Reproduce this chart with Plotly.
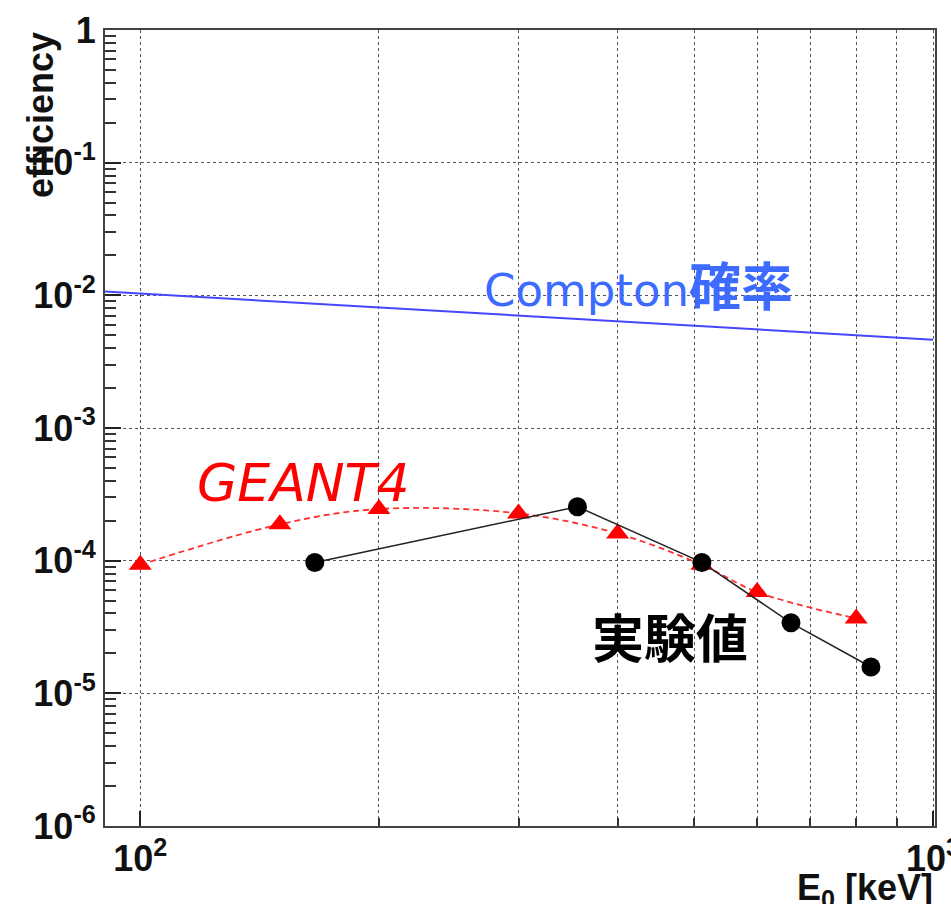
import plotly.graph_objects as go

# Measured detection efficiency (keV, efficiency)
exp_energy = [166, 356, 511, 662, 835]
exp_eff = [9.7e-5, 2.55e-4, 9.7e-5, 3.4e-5, 1.58e-5]

# GEANT4 simulation
sim_energy = [100, 150, 200, 300, 400, 511, 600, 800]
sim_eff = [9.3e-5, 1.88e-4, 2.45e-4, 2.27e-4, 1.6e-4, 9.3e-5, 5.8e-5, 3.67e-5]

# Compton scattering probability (straight in log-log)
compton_energy = [90, 1000]
compton_prob = [1.07e-2, 4.63e-3]

y_tickvals = [1e-6, 1e-5, 1e-4, 1e-3, 1e-2, 1e-1, 1]
y_ticktext = ["10<sup>-6</sup>", "10<sup>-5</sup>", "10<sup>-4</sup>", "10<sup>-3</sup>",
              "10<sup>-2</sup>", "10<sup>-1</sup>", "1"]
x_tickvals = [100, 1000]
x_ticktext = ["10<sup>2</sup>", "10<sup>3</sup>"]
x_minor = [200, 300, 400, 500, 600, 700, 800, 900]
y_minor = [k * 10.0 ** e for e in range(-6, 0) for k in range(2, 10)]

W, H = 951, 904
L, R, T, B = 105, 16, 30, 78
PW, PH = W - L - R, H - T - B


def px(x):
    return (x - L) / PW


def py(y):
    return (H - B - y) / PH


fig = go.Figure()

fig.add_trace(go.Scatter(
    x=compton_energy, y=compton_prob, mode="lines",
    line=dict(color="#4646ff", width=2), showlegend=False))

fig.add_trace(go.Scatter(
    x=sim_energy, y=sim_eff, mode="lines+markers",
    line=dict(color="#ff3030", width=1.8, dash="6px,4px", shape="spline", smoothing=1),
    marker=dict(symbol="triangle-up", size=20, color="#ff0000"),
    showlegend=False))

fig.add_trace(go.Scatter(
    x=exp_energy, y=exp_eff, mode="lines+markers",
    line=dict(color="#222222", width=1.5),
    marker=dict(symbol="circle", size=19, color="#000000"),
    showlegend=False))

axis_font = dict(family="Liberation Sans, Arial, sans-serif", size=36, color="#111", weight="bold")
grid = dict(showgrid=True, gridcolor="#555", griddash="dot", gridwidth=1)

fig.update_xaxes(
    type="log", range=[1.9555, 3.0025], tickmode="array", tickvals=x_tickvals, ticktext=x_ticktext,
    ticks="inside", ticklen=15, tickwidth=1.5, tickcolor="#222", tickfont=axis_font,
    ticklabeloverflow="allow",
    showline=True, mirror=True, linecolor="#444", linewidth=2, zeroline=False,
    automargin=False,
    minor=dict(tickmode="array", tickvals=x_minor, ticks="inside", ticklen=8,
               tickcolor="#333", showgrid=True, gridcolor="#555", griddash="dot", gridwidth=1),
    **grid)

fig.update_yaxes(
    type="log", range=[-6, 0], tickmode="array", tickvals=y_tickvals, ticktext=y_ticktext,
    ticks="inside", ticklen=16, tickwidth=1.5, tickcolor="#222", tickfont=axis_font,
    ticklabeloverflow="allow",
    showline=True, mirror=True, linecolor="#444", linewidth=2, zeroline=False,
    automargin=False,
    minor=dict(tickmode="array", tickvals=y_minor, ticks="inside", ticklen=11,
               tickcolor="#333", showgrid=False),
    **grid)

annotations = [
    dict(text="efficiency", x=px(40), y=1.0, xref="paper", yref="paper",
         xanchor="center", yanchor="top", textangle=-90, showarrow=False,
         font=dict(family="Liberation Sans, Arial, sans-serif", size=36, color="#111", weight="bold")),
    dict(text="E<sub>0</sub> [keV]", x=1.0, y=py(890), xref="paper", yref="paper",
         xanchor="right", yanchor="middle", showarrow=False,
         font=dict(family="Liberation Sans, Arial, sans-serif", size=36, color="#111", weight="bold")),
    dict(text='Compton<span style="font-family:Noto Sans CJK JP;font-size:52px;font-weight:bold">確率</span>',
         x=px(482), y=py(283), xref="paper", yref="paper",
         xanchor="left", yanchor="middle", showarrow=False,
         font=dict(family="DejaVu Sans, Noto Sans CJK JP, sans-serif", size=45, color="#3d6bff")),
    dict(text="<i>GEANT4</i>", x=px(195), y=py(483), xref="paper", yref="paper",
         xanchor="left", yanchor="middle", showarrow=False,
         font=dict(family="DejaVu Sans, sans-serif", size=52, color="#ff0000")),
    dict(text="実験値", x=px(670), y=py(635), xref="paper", yref="paper",
         xanchor="center", yanchor="middle", showarrow=False,
         font=dict(family="Noto Sans CJK JP, sans-serif", size=52, color="#000", weight="bold")),
]

fig.update_layout(
    width=W, height=H, margin=dict(l=L, r=R, t=T, b=B, autoexpand=False),
    paper_bgcolor="white", plot_bgcolor="white",
    annotations=annotations, showlegend=False)

fig.write_html("out.html")
